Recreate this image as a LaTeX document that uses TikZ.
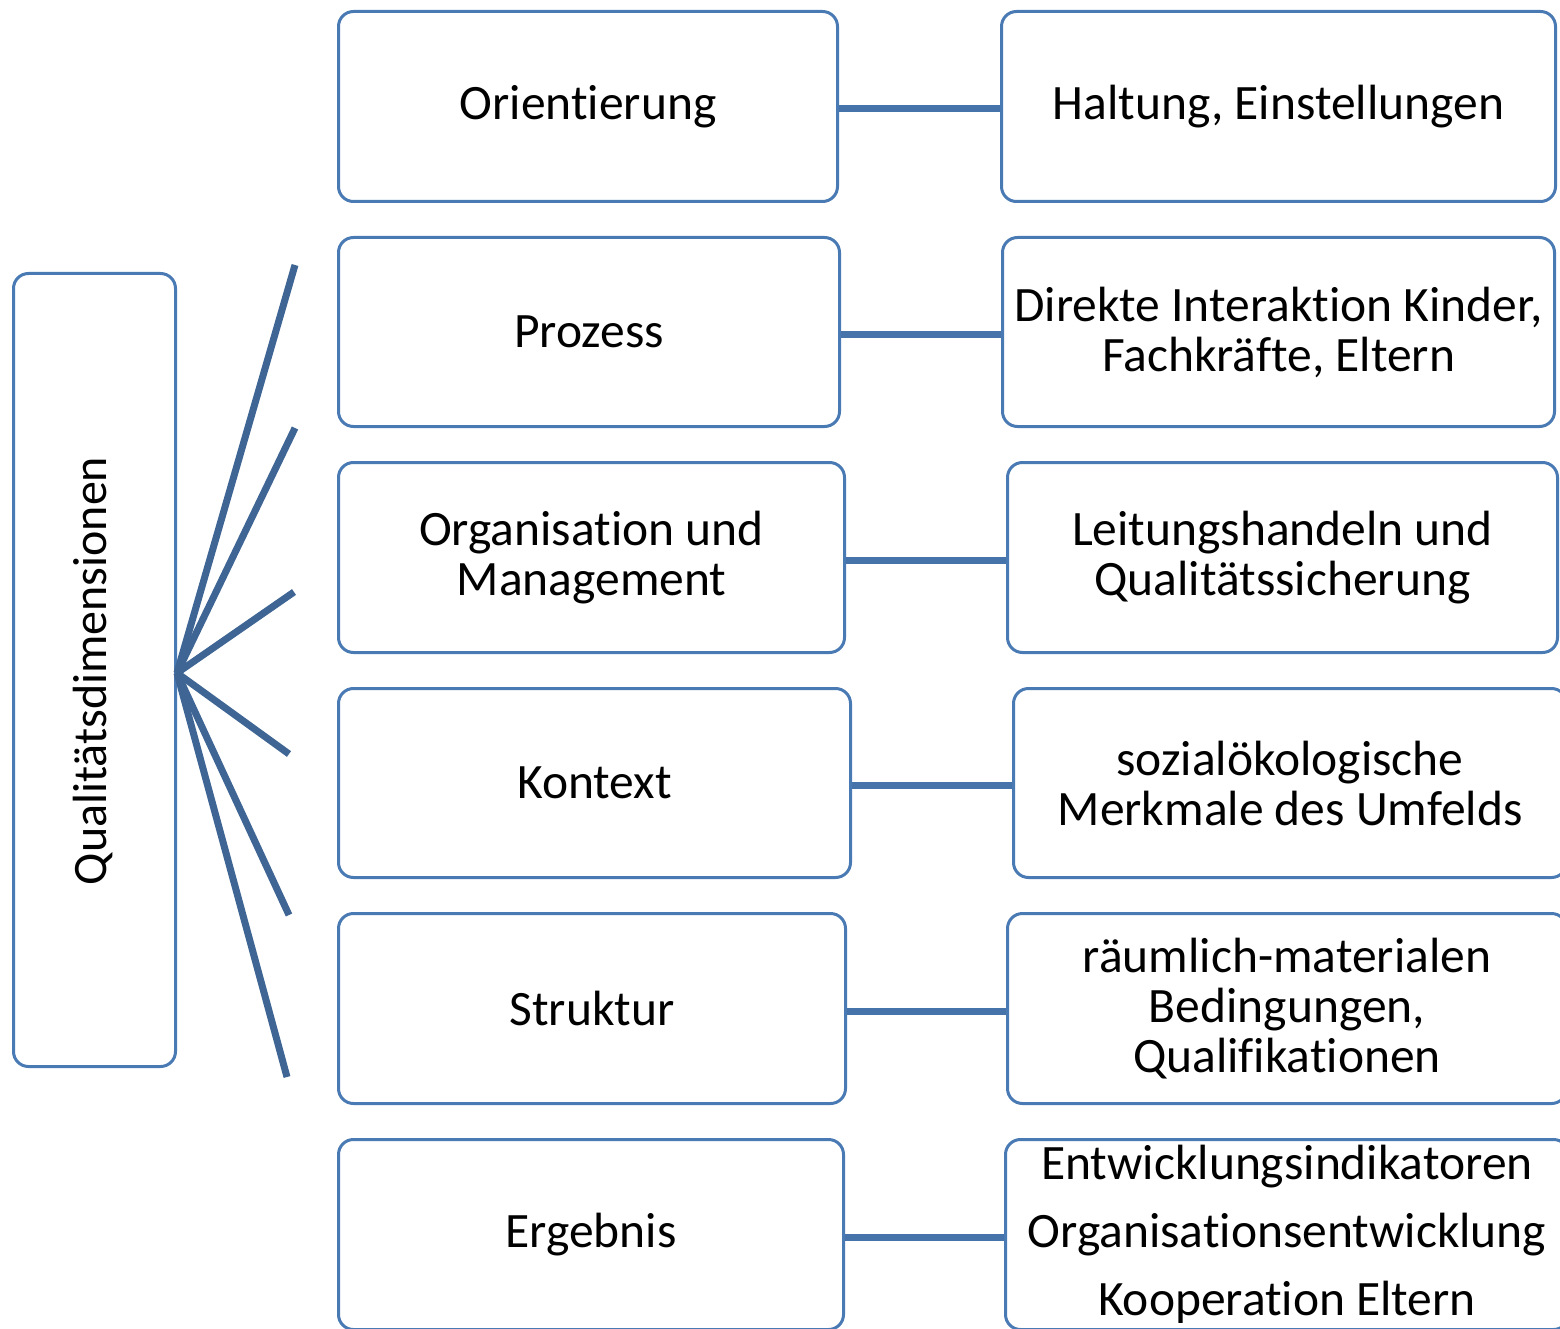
\documentclass[tikz,border=0pt]{standalone}
\usepackage{fontspec}
\setmainfont{Carlito}[Ligatures=NoCommon]
\definecolor{boxblue}{RGB}{74,122,180}
\definecolor{linkblue}{RGB}{70,115,170}
\definecolor{fanblue}{RGB}{62,101,148}
\begin{document}
\begin{tikzpicture}[x=1pt,y=-1pt,
  dimbox/.style={draw=boxblue, line width=3pt, rounded corners=15pt, fill=white,
    align=center, font=\fontsize{49.5}{50}\selectfont, inner sep=0pt},
  link/.style={draw=linkblue, line width=7pt},
  fan/.style={draw=fanblue, line width=7pt}]
\useasboundingbox (0,0) rectangle (1560,1329);
% left box
\node[dimbox, minimum width=162pt, minimum height=793pt] (lq) at (94.5,670) {};
\node[rotate=90, font=\fontsize{48}{50}\selectfont, inner sep=0pt] (lqt) at (93,671) {Qualitätsdimensionen};
% middle boxes
\node[dimbox, minimum width=499pt, minimum height=190pt] (m1) at (588,106.5) {Orientierung};
\node[dimbox, minimum width=501pt, minimum height=189pt] (m2) at (589,332) {Prozess};
\node[dimbox, minimum width=506pt, minimum height=190pt] (m3) at (591.5,557.5) {Organisation und\\Management};
\node[dimbox, minimum width=512pt, minimum height=189pt] (m4) at (594.5,783) {Kontext};
\node[dimbox, minimum width=507pt, minimum height=190pt] (m5) at (592,1008.5) {Struktur};
\node[dimbox, minimum width=505pt, minimum height=190pt] (m6) at (591,1234.5) {Ergebnis};
% right boxes
\node[dimbox, minimum width=554pt, minimum height=190pt] (r1) at (1278.5,106.5) {Haltung, Einstellungen};
\node[dimbox, minimum width=552pt, minimum height=189pt] (r2) at (1278.5,332) {Direkte Interaktion Kinder,\\Fachkräfte, Eltern};
\node[dimbox, minimum width=550pt, minimum height=190pt] (r3) at (1282.5,557.5) {Leitungshandeln und\\Qualitätssicherung};
\node[dimbox, minimum width=553pt, minimum height=189pt] (r4) at (1290,783) {sozialökologische\\Merkmale des Umfelds};
\node[dimbox, minimum width=559pt, minimum height=190pt] (r5) at (1287,1008.5) {räumlich-materialen\\Bedingungen,\\Qualifikationen};
\node[dimbox, minimum width=563pt, minimum height=190pt, font=\fontsize{49.5}{68}\selectfont] (r6) at (1287,1234.5) {Entwicklungsindikatoren\\Organisationsentwicklung\\Kooperation Eltern};
% connectors
\foreach \i in {1,...,6}{
  \draw[link] ([yshift=-2.5pt]m\i.east) -- ([yshift=-2.5pt]r\i.west);
}
% fan
\coordinate (f1) at (295,265);
\coordinate (f2) at (295,428);
\coordinate (f3) at (294,592);
\coordinate (f4) at (289,754);
\coordinate (f5) at (289,915);
\coordinate (f6) at (287,1077);
\coordinate (fo) at ([yshift=-3pt]lq.east);
\foreach \i in {1,...,6}{
  \draw[fan] (fo) -- (f\i);
}
\end{tikzpicture}
\end{document}
